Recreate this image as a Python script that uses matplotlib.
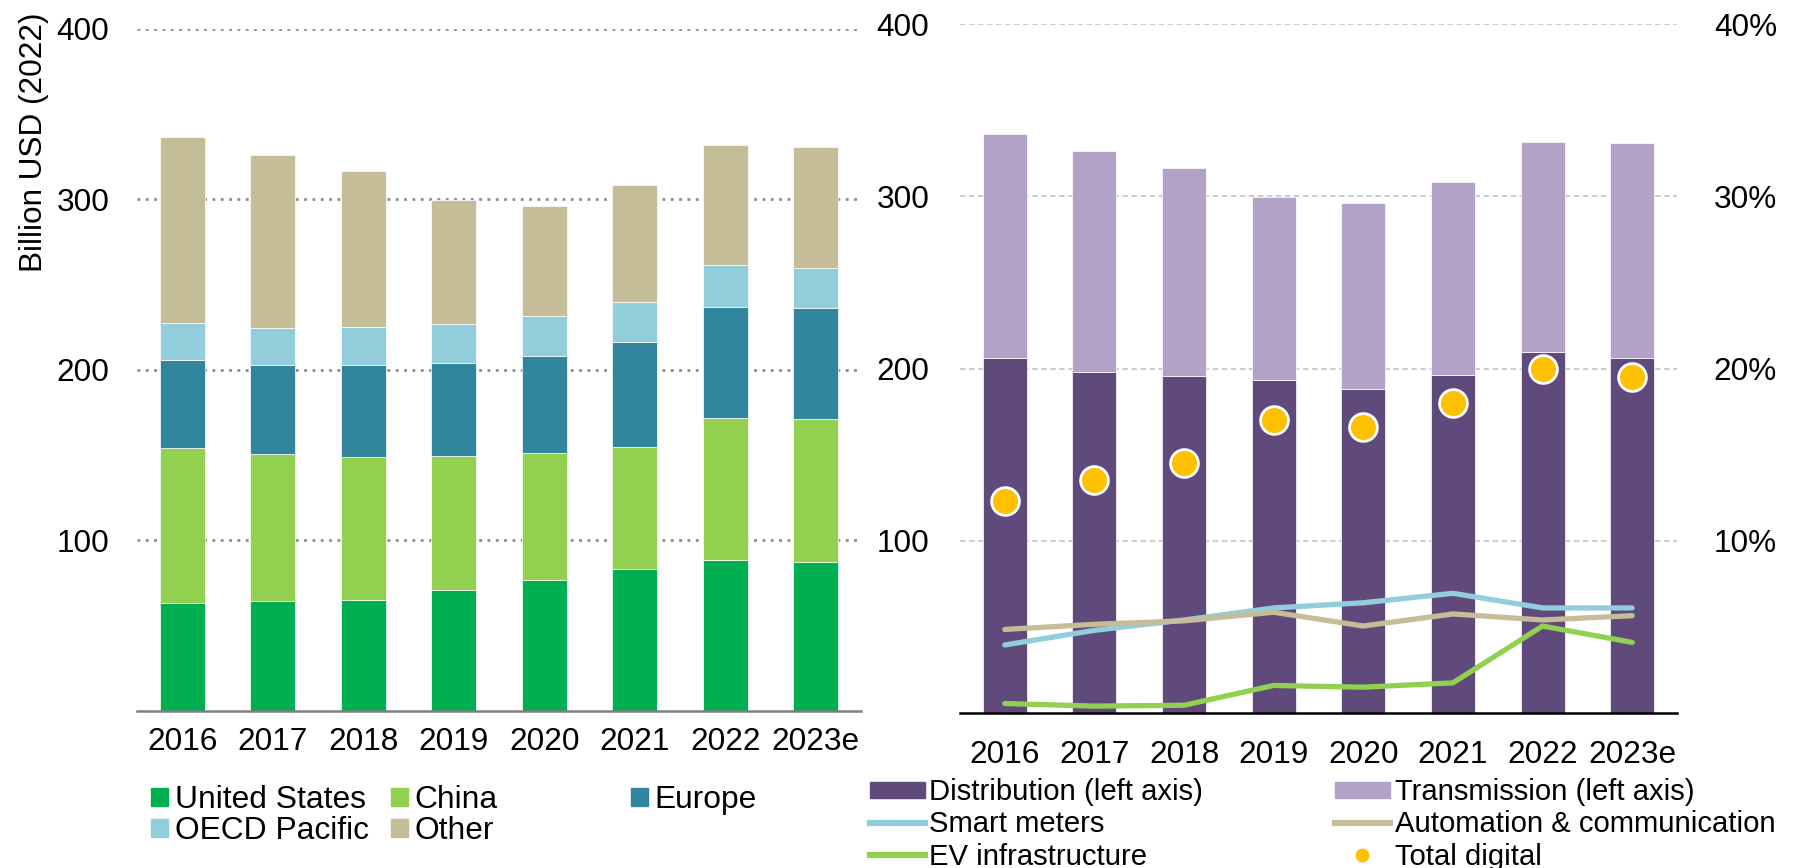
import matplotlib
matplotlib.use('Agg')
import matplotlib.pyplot as plt
from matplotlib.patches import Patch
from matplotlib.lines import Line2D

plt.rcParams['font.family'] = ['Liberation Sans', 'DejaVu Sans']

years = ['2016', '2017', '2018', '2019', '2020', '2021', '2022', '2023e']

# left chart: investment by region, billion USD (2022)
united_states = [63.0, 64.5, 65.1, 70.9, 76.4, 83.2, 88.5, 87.2]
china = [90.8, 86.0, 83.8, 78.4, 74.8, 71.6, 83.2, 83.6]
europe = [51.8, 52.1, 53.7, 54.7, 56.7, 61.3, 64.8, 65.4]
oecd_pacific = [21.5, 21.5, 22.1, 22.7, 23.3, 23.6, 24.8, 23.1]
other = [109.0, 101.8, 91.8, 72.8, 64.6, 68.4, 70.1, 71.5]

# right chart: grid segment, billion USD (left axis) and digital shares in % (right axis)
distribution = [206.3, 198.2, 195.7, 193.4, 188.2, 196.3, 209.8, 206.3]
transmission = [129.9, 127.8, 120.8, 106.3, 107.8, 111.9, 121.8, 124.5]
smart_meters = [3.95, 4.8, 5.4, 6.1, 6.4, 6.95, 6.1, 6.1]
automation = [4.85, 5.15, 5.35, 5.85, 5.05, 5.75, 5.4, 5.65]
ev_infra = [0.55, 0.4, 0.45, 1.6, 1.5, 1.75, 5.05, 4.1]
total_digital = [12.3, 13.5, 14.5, 17.0, 16.6, 18.0, 20.0, 19.5]

W, H = 1794, 868
FS = 22.7

fig = plt.figure(figsize=(W / 100, H / 100), dpi=100)

# ---- left chart ----
ax1 = fig.add_axes([137 / W, (H - 710.7) / H, 724 / W, 682.2 / H])
x = range(len(years))
region_series = [
    ('United States', united_states, '#00B050'),
    ('China', china, '#92D050'),
    ('Europe', europe, '#31859C'),
    ('OECD Pacific', oecd_pacific, '#92CDDC'),
    ('Other', other, '#C4BD97'),
]
bottom = [0] * len(years)
for name, vals, col in region_series:
    ax1.bar(x, vals, width=0.5, bottom=bottom, color=col, edgecolor='white',
            linewidth=0.5, zorder=3)
    bottom = [b + v for b, v in zip(bottom, vals)]

ax1.set_xlim(-0.5, 7.5)
ax1.set_ylim(0, 400)
ax1.set_yticks([100, 200, 300, 400])
ax1.set_xticks(list(x))
ax1.set_xticklabels(years)
ax1.grid(axis='y', linestyle=(0, (1, 2)), color='#8c8c8c', linewidth=2, zorder=0)
for s in ['top', 'left', 'right']:
    ax1.spines[s].set_visible(False)
ax1.spines['bottom'].set_color('#7f7f7f')
ax1.spines['bottom'].set_linewidth(1.8)
ax1.spines['bottom'].set_zorder(4)
ax1.tick_params(axis='both', length=0, labelsize=FS)
ax1.tick_params(axis='y', pad=20)
ax1.tick_params(axis='x', pad=12)

fig.text(34 / W, 1 - 13 / H, 'Billion USD (2022)', rotation=90, ha='center',
         va='top', fontsize=FS)

# left legend, one column per legend to keep the fixed column positions
leg_cols = [
    (151, 815.5, [0, 3]),
    (391, 815.5, [1, 4]),
    (631, 800, [2]),
]
for lx, ly, idx in leg_cols:
    handles = [Patch(color=region_series[i][2]) for i in idx]
    labels = [region_series[i][0] for i in idx]
    leg = fig.legend(handles, labels, loc='center left',
                     bbox_to_anchor=(lx / W, 1 - ly / H), frameon=False,
                     borderpad=0, borderaxespad=0, handlelength=0.53,
                     handleheight=0.5, handletextpad=0.22, labelspacing=0.03,
                     fontsize=22.9)

# ---- right chart ----
ax2 = fig.add_axes([960 / W, (H - 713) / H, 717 / W, 689 / H])
ax2.bar(x, distribution, width=0.49, color='#604A7B', edgecolor='white',
        linewidth=0.5, zorder=3)
ax2.bar(x, transmission, width=0.49, bottom=distribution, color='#B3A2C7',
        edgecolor='white', linewidth=0.5, zorder=3)
ax2.set_xlim(-0.5, 7.5)
ax2.set_ylim(0, 400)
ax2.set_yticks([100, 200, 300, 400])
ax2.set_xticks(list(x))
ax2.set_xticklabels(years)
ax2.grid(axis='y', linestyle=(0, (3, 2)), color='#c8c8c8', linewidth=1.3, zorder=0)
for s in ['top', 'left', 'right']:
    ax2.spines[s].set_visible(False)
ax2.spines['bottom'].set_color('black')
ax2.spines['bottom'].set_linewidth(1.8)
ax2.spines['bottom'].set_zorder(4)
ax2.tick_params(axis='both', length=0, labelsize=FS)
ax2.tick_params(axis='y', pad=22)
ax2.tick_params(axis='x', pad=19.5)

ax3 = ax2.twinx()
ax3.set_ylim(0, 40)
ax3.set_yticks([10, 20, 30, 40])
ax3.set_yticklabels(['10%', '20%', '30%', '40%'])
for s in ax3.spines.values():
    s.set_visible(False)
ax3.tick_params(axis='y', length=0, labelsize=FS, pad=26.5)
ax3.plot(x, smart_meters, color='#92CDDC', linewidth=3.8, solid_capstyle='round')
ax3.plot(x, automation, color='#C4BD97', linewidth=3.8, solid_capstyle='round')
ax3.plot(x, ev_infra, color='#92D050', linewidth=3.8, solid_capstyle='round')
ax3.plot(x, total_digital, linestyle='none', marker='o', markersize=20,
         markerfacecolor='#FFC000', markeredgecolor='white', markeredgewidth=2)

r_handles = [
    Patch(color='#604A7B'),
    Line2D([], [], color='#92CDDC', linewidth=4.5),
    Line2D([], [], color='#92D050', linewidth=4.5),
    Patch(color='#B3A2C7'),
    Line2D([], [], color='#C4BD97', linewidth=4.5),
    Line2D([], [], linestyle='none', marker='o', markersize=10,
           markerfacecolor='#FFC000', markeredgecolor='none'),
]
r_labels = ['Distribution (left axis)', 'Smart meters', 'EV infrastructure',
            'Transmission (left axis)', 'Automation & communication', 'Total digital']
fig.legend(r_handles, r_labels, ncol=2, loc='center left',
           bbox_to_anchor=(869.5 / W, 1 - 824.5 / H), frameon=False,
           borderpad=0, borderaxespad=0, handlelength=1.88, handleheight=0.51,
           handletextpad=0.16, labelspacing=0.14, columnspacing=4.49,
           fontsize=21.1)

fig.savefig('out.png', dpi=100)
